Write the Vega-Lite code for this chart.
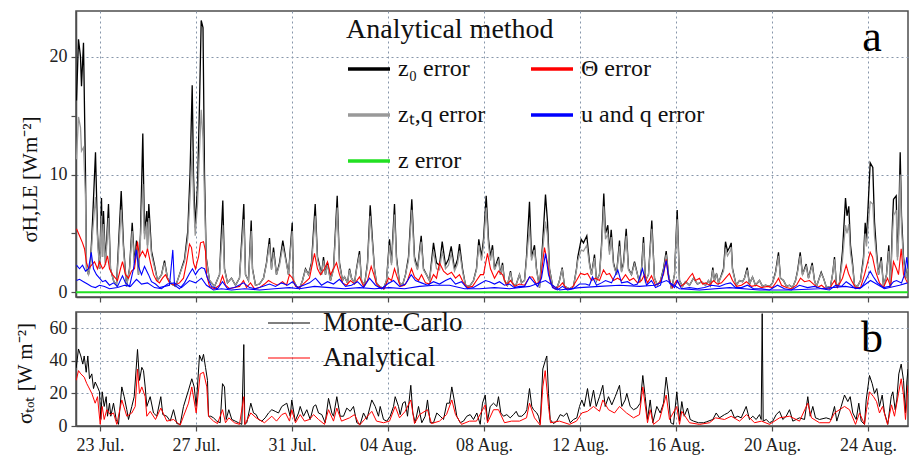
{
"$schema":"https://vega.github.io/schema/vega-lite/v6.json",
"padding":{"left":13,"top":10,"right":0,"bottom":0},
"bounds":"flush",
"spacing":15,
"config":{
"font":"Liberation Serif",
"view":{"stroke":"#4d4d4d","strokeWidth":1.5},
"axis":{"labelFont":"Liberation Serif","labelFontSize":18,"labelColor":"#222","titleFont":"Liberation Serif","titleFontWeight":"normal","titleFontSize":21,"titleColor":"#111","domainColor":"#4d4d4d","domainWidth":1.5,"tickColor":"#4d4d4d","tickSize":5,"tickWidth":1.2,"gridColor":"#8796aa","gridDash":[2,3],"gridWidth":1,"labelPadding":4,"labelOverlap":false,"tickCount":12},
"legend":{"labelFont":"Liberation Serif","titleFont":"Liberation Serif","labelColor":"#111","titleColor":"#111","titleFontWeight":"normal","padding":0}
},
"datasets":{
"z0":[{"h":0.5,"v":16.3},{"h":2.5,"v":21.5},{"h":4.5,"v":20},{"h":5.5,"v":17.5},{"h":7.5,"v":21.2},{"h":9.5,"v":10},{"h":10.5,"v":2},{"h":12.5,"v":1.5},{"h":14.5,"v":2.5},{"h":16.5,"v":6},{"h":19.5,"v":11.9},{"h":21.5,"v":5},{"h":23.5,"v":2},{"h":25.5,"v":8},{"h":26.5,"v":3},{"h":27.5,"v":6.9},{"h":29.5,"v":2.5},{"h":32.5,"v":7.5},{"h":34.5,"v":2},{"h":37.5,"v":1},{"h":40.5,"v":0.6},{"h":45.2,"v":8.6},{"h":47.5,"v":4},{"h":50.5,"v":0.5},{"h":53.5,"v":2},{"h":56.2,"v":5.9},{"h":58.5,"v":2.5},{"h":60.5,"v":4.4},{"h":62.5,"v":1.5},{"h":64.5,"v":5},{"h":66.8,"v":13.5},{"h":68.5,"v":5},{"h":70.8,"v":6.9},{"h":71.5,"v":4},{"h":72.8,"v":7.5},{"h":75.5,"v":3.5},{"h":78.5,"v":2.3},{"h":81.5,"v":1},{"h":85.5,"v":1.5},{"h":88.5,"v":2.7},{"h":91.5,"v":1.2},{"h":95.5,"v":0.7},{"h":99.5,"v":0.5},{"h":103.5,"v":1.5},{"h":108.5,"v":2.8},{"h":111.8,"v":5.2},{"h":114,"v":10},{"h":116.2,"v":17.6},{"h":117.5,"v":10},{"h":119.2,"v":5.5},{"h":121.5,"v":9},{"h":123.5,"v":16},{"h":125.2,"v":23.1},{"h":127,"v":22.5},{"h":128.5,"v":10},{"h":130.2,"v":3},{"h":133.5,"v":1},{"h":138.5,"v":0.5},{"h":143.5,"v":1.5},{"h":146.8,"v":7.8},{"h":148.5,"v":2},{"h":151.5,"v":0.8},{"h":155.5,"v":1.2},{"h":159.5,"v":0.6},{"h":163.5,"v":1.2},{"h":167.8,"v":7.5},{"h":169.5,"v":1.5},{"h":172.5,"v":1},{"h":175.2,"v":6.1},{"h":176.5,"v":2},{"h":179.5,"v":0.6},{"h":183.5,"v":0.7},{"h":187.5,"v":1.2},{"h":190.5,"v":2.5},{"h":193.5,"v":4.6},{"h":195.5,"v":2},{"h":197.5,"v":3.8},{"h":200.5,"v":1.5},{"h":203.5,"v":2.5},{"h":206.8,"v":4.4},{"h":209.5,"v":3},{"h":212.5,"v":1.5},{"h":216.2,"v":5.9},{"h":217.5,"v":1},{"h":220.5,"v":0.5},{"h":223.5,"v":0.3},{"h":226.5,"v":1},{"h":229.5,"v":2},{"h":232.5,"v":1.5},{"h":235.5,"v":2.5},{"h":239.2,"v":7.5},{"h":241.5,"v":3},{"h":243.5,"v":2.3},{"h":245.5,"v":1.5},{"h":247.5,"v":3},{"h":249.5,"v":1.5},{"h":251.5,"v":2.5},{"h":254.5,"v":1},{"h":257.5,"v":2},{"h":261.2,"v":8.2},{"h":263.5,"v":2.5},{"h":266.5,"v":1},{"h":268.5,"v":1.3},{"h":271.5,"v":0.8},{"h":273.5,"v":2},{"h":275.5,"v":1.2},{"h":278.5,"v":0.8},{"h":280.5,"v":2},{"h":283.5,"v":3.5},{"h":285.5,"v":1},{"h":288.5,"v":0.6},{"h":291.5,"v":2.5},{"h":294.2,"v":7.4},{"h":296.5,"v":4.4},{"h":298.5,"v":2},{"h":300.5,"v":0.8},{"h":303.5,"v":0.5},{"h":307.5,"v":0.3},{"h":310.5,"v":1},{"h":313.5,"v":4.5},{"h":315.5,"v":2.5},{"h":318.5,"v":7.5},{"h":320.5,"v":3},{"h":323.5,"v":0.8},{"h":326.5,"v":0.6},{"h":329.5,"v":1.5},{"h":332.5,"v":3},{"h":335.8,"v":7.9},{"h":338.5,"v":3},{"h":341.5,"v":2},{"h":345.2,"v":4.8},{"h":347.5,"v":2},{"h":350.5,"v":1.5},{"h":353.5,"v":1},{"h":357.5,"v":4.2},{"h":360.5,"v":2.5},{"h":363.5,"v":2.3},{"h":366.2,"v":4.3},{"h":369.5,"v":2.3},{"h":372.5,"v":2.8},{"h":375.2,"v":3.9},{"h":378.5,"v":2},{"h":381.5,"v":2.8},{"h":383.5,"v":4.1},{"h":386.5,"v":2},{"h":389.5,"v":0.6},{"h":393.5,"v":0.5},{"h":397.5,"v":1},{"h":400.5,"v":2},{"h":402.8,"v":4.5},{"h":405.5,"v":3},{"h":407.5,"v":4.5},{"h":410.2,"v":8.2},{"h":412.5,"v":4.5},{"h":414.5,"v":3},{"h":416.5,"v":4},{"h":418.5,"v":2},{"h":420.5,"v":2.5},{"h":422.5,"v":3},{"h":424.5,"v":1.5},{"h":426.5,"v":2.5},{"h":428.5,"v":1},{"h":431.5,"v":0.6},{"h":434.5,"v":1.8},{"h":436.5,"v":0.8},{"h":439.5,"v":0.5},{"h":443.5,"v":1.5},{"h":445.5,"v":0.8},{"h":448.5,"v":1},{"h":450.5,"v":3},{"h":453.5,"v":7.7},{"h":455.5,"v":3},{"h":458.5,"v":4},{"h":460.5,"v":2},{"h":463.5,"v":0.4},{"h":466.5,"v":4},{"h":469.5,"v":8.3},{"h":471.5,"v":6},{"h":473.5,"v":2},{"h":476.5,"v":0.6},{"h":479.5,"v":0.3},{"h":481.5,"v":0.5},{"h":483.5,"v":1},{"h":486.2,"v":2.1},{"h":488.5,"v":0.5},{"h":493.5,"v":0.3},{"h":497.5,"v":0.5},{"h":500.5,"v":2},{"h":501.8,"v":3},{"h":505.2,"v":4.5},{"h":507.5,"v":4.2},{"h":510.8,"v":4.8},{"h":513.5,"v":2.5},{"h":515.5,"v":1.5},{"h":518.5,"v":3.2},{"h":520.5,"v":1},{"h":523.5,"v":1.5},{"h":525.5,"v":4},{"h":527.8,"v":8.4},{"h":529.5,"v":5},{"h":531.8,"v":5.7},{"h":533.5,"v":3.5},{"h":535.2,"v":5.3},{"h":537.5,"v":2.5},{"h":540.5,"v":1.5},{"h":543.5,"v":4.4},{"h":545.5,"v":1.8},{"h":547.5,"v":2.5},{"h":550.2,"v":5.4},{"h":552.5,"v":2},{"h":555.5,"v":1.5},{"h":558.5,"v":2.6},{"h":561.5,"v":1.5},{"h":563.5,"v":0.8},{"h":565.5,"v":2},{"h":567.5,"v":4.7},{"h":569.5,"v":1},{"h":572.5,"v":1.5},{"h":575.8,"v":6.1},{"h":578.5,"v":1.2},{"h":581.5,"v":0.6},{"h":584.5,"v":1},{"h":587.5,"v":2},{"h":590.2,"v":3.5},{"h":592.5,"v":1.5},{"h":595.5,"v":0.3},{"h":598.5,"v":1.5},{"h":601.2,"v":7},{"h":603.5,"v":1},{"h":606.5,"v":0.5},{"h":609.5,"v":0.9},{"h":613.5,"v":0.6},{"h":617.5,"v":1.2},{"h":621.5,"v":0.7},{"h":625.5,"v":0.9},{"h":629.5,"v":0.6},{"h":632.5,"v":1},{"h":634.5,"v":0.6},{"h":636.8,"v":2.1},{"h":638.5,"v":1},{"h":640.5,"v":1.6},{"h":642.5,"v":0.8},{"h":645.5,"v":1.5},{"h":647.5,"v":2},{"h":649.5,"v":4.3},{"h":651.5,"v":3.5},{"h":653.5,"v":3.8},{"h":655.2,"v":4.2},{"h":656.5,"v":2},{"h":660.2,"v":0.6},{"h":663.5,"v":1},{"h":666.5,"v":0.9},{"h":668.5,"v":1.2},{"h":671.2,"v":2.1},{"h":673.5,"v":0.7},{"h":676.5,"v":1.3},{"h":679.5,"v":0.6},{"h":683.5,"v":1},{"h":686.5,"v":0.5},{"h":689.5,"v":0.6},{"h":693.5,"v":0.5},{"h":696.5,"v":0.8},{"h":699.5,"v":1.7},{"h":702.5,"v":3.4},{"h":704.5,"v":1.2},{"h":707.5,"v":1},{"h":710.5,"v":0.5},{"h":713.5,"v":0.6},{"h":716.5,"v":0.4},{"h":719.5,"v":1},{"h":721.5,"v":1.8},{"h":724.2,"v":3.4},{"h":726.5,"v":1.5},{"h":730.2,"v":2.4},{"h":732.5,"v":1.2},{"h":736.2,"v":2.5},{"h":738.5,"v":1},{"h":740.5,"v":0.5},{"h":742.5,"v":1},{"h":745.2,"v":1.7},{"h":747.5,"v":1.2},{"h":750.5,"v":0.4},{"h":754.5,"v":0.5},{"h":756.5,"v":1.5},{"h":758.5,"v":3},{"h":760.5,"v":0.5},{"h":763.5,"v":0.8},{"h":766.5,"v":3.5},{"h":769.5,"v":8},{"h":771,"v":6.5},{"h":772.8,"v":7.3},{"h":774.5,"v":4},{"h":776.5,"v":2.5},{"h":778.5,"v":0.6},{"h":781.5,"v":0.5},{"h":784.5,"v":1},{"h":787.5,"v":3},{"h":789.2,"v":5.9},{"h":790.5,"v":4.5},{"h":792.5,"v":8},{"h":794.2,"v":11},{"h":796.8,"v":10.6},{"h":798.5,"v":6},{"h":800.5,"v":3.5},{"h":802.5,"v":1.5},{"h":805.2,"v":3},{"h":807.5,"v":0.5},{"h":810.5,"v":1.5},{"h":812.8,"v":4},{"h":814.5,"v":0.5},{"h":816.5,"v":6},{"h":817.5,"v":7.9},{"h":820.2,"v":8.2},{"h":821.5,"v":3},{"h":822.5,"v":5},{"h":824.2,"v":11.9},{"h":825.5,"v":6.5},{"h":827.5,"v":3},{"h":830.2,"v":1.2},{"h":832,"v":2.5}],
"ztq":[{"h":0.5,"v":11.3},{"h":2.5,"v":14.9},{"h":4.5,"v":14},{"h":5.5,"v":12},{"h":7.5,"v":12.3},{"h":9.5,"v":8},{"h":10.5,"v":2},{"h":12.5,"v":1.5},{"h":14.5,"v":2.3},{"h":16.5,"v":5},{"h":19.5,"v":8.1},{"h":21.5,"v":4.5},{"h":23.5,"v":2},{"h":25.5,"v":6.5},{"h":26.5,"v":3},{"h":27.5,"v":5.8},{"h":29.5,"v":2.3},{"h":32.5,"v":6.3},{"h":34.5,"v":2},{"h":37.5,"v":1},{"h":40.5,"v":0.6},{"h":45.2,"v":7},{"h":47.5,"v":3.6},{"h":50.5,"v":0.5},{"h":53.5,"v":1.9},{"h":56.2,"v":5.2},{"h":58.5,"v":2.3},{"h":60.5,"v":3.9},{"h":62.5,"v":1.5},{"h":64.5,"v":4.5},{"h":66.8,"v":9.2},{"h":68.5,"v":4.5},{"h":70.8,"v":6},{"h":71.5,"v":3.6},{"h":72.8,"v":6.3},{"h":75.5,"v":3.2},{"h":78.5,"v":2.1},{"h":81.5,"v":1},{"h":85.5,"v":1.5},{"h":88.5,"v":2.5},{"h":91.5,"v":1.2},{"h":95.5,"v":0.7},{"h":99.5,"v":0.5},{"h":103.5,"v":1.5},{"h":108.5,"v":2.6},{"h":111.8,"v":4.6},{"h":114,"v":8},{"h":116.2,"v":12},{"h":117.5,"v":8},{"h":119.2,"v":4.8},{"h":121.5,"v":7.5},{"h":123.5,"v":12},{"h":125.2,"v":15.5},{"h":127,"v":13},{"h":128.5,"v":8},{"h":130.2,"v":2.8},{"h":133.5,"v":1},{"h":138.5,"v":0.5},{"h":143.5,"v":1.5},{"h":146.8,"v":5.7},{"h":148.5,"v":1.9},{"h":151.5,"v":0.8},{"h":155.5,"v":1.2},{"h":159.5,"v":0.6},{"h":163.5,"v":1.2},{"h":167.8,"v":6.2},{"h":169.5,"v":1.5},{"h":172.5,"v":1},{"h":175.2,"v":5.2},{"h":176.5,"v":1.9},{"h":179.5,"v":0.6},{"h":183.5,"v":0.7},{"h":187.5,"v":1.2},{"h":190.5,"v":2.4},{"h":193.5,"v":4.1},{"h":195.5,"v":1.9},{"h":197.5,"v":3.4},{"h":200.5,"v":1.5},{"h":203.5,"v":2.3},{"h":206.8,"v":3.9},{"h":209.5,"v":2.8},{"h":212.5,"v":1.5},{"h":216.2,"v":5.2},{"h":217.5,"v":1},{"h":220.5,"v":0.5},{"h":223.5,"v":0.3},{"h":226.5,"v":1},{"h":229.5,"v":1.9},{"h":232.5,"v":1.5},{"h":235.5,"v":2.3},{"h":239.2,"v":6.5},{"h":241.5,"v":2.8},{"h":243.5,"v":2.1},{"h":245.5,"v":1.5},{"h":247.5,"v":2.7},{"h":249.5,"v":1.5},{"h":251.5,"v":2.3},{"h":254.5,"v":1},{"h":257.5,"v":1.9},{"h":261.2,"v":7.2},{"h":263.5,"v":2.3},{"h":266.5,"v":1},{"h":268.5,"v":1.3},{"h":271.5,"v":0.8},{"h":273.5,"v":1.9},{"h":275.5,"v":1.2},{"h":278.5,"v":0.8},{"h":280.5,"v":1.9},{"h":283.5,"v":3.2},{"h":285.5,"v":1},{"h":288.5,"v":0.6},{"h":291.5,"v":2.3},{"h":294.2,"v":6.5},{"h":296.5,"v":4},{"h":298.5,"v":1.9},{"h":300.5,"v":0.8},{"h":303.5,"v":0.5},{"h":307.5,"v":0.3},{"h":310.5,"v":1},{"h":313.5,"v":4},{"h":315.5,"v":2.3},{"h":318.5,"v":6.6},{"h":320.5,"v":2.7},{"h":323.5,"v":0.8},{"h":326.5,"v":0.6},{"h":329.5,"v":1.5},{"h":332.5,"v":2.7},{"h":335.8,"v":7},{"h":338.5,"v":2.7},{"h":341.5,"v":1.9},{"h":345.2,"v":4.3},{"h":347.5,"v":1.9},{"h":350.5,"v":1.5},{"h":353.5,"v":1},{"h":357.5,"v":3.5},{"h":360.5,"v":2},{"h":363.5,"v":1.9},{"h":366.2,"v":3.5},{"h":369.5,"v":2},{"h":372.5,"v":2.3},{"h":375.2,"v":3.3},{"h":378.5,"v":1.8},{"h":381.5,"v":2.4},{"h":383.5,"v":3.5},{"h":386.5,"v":1.8},{"h":389.5,"v":0.6},{"h":393.5,"v":0.5},{"h":397.5,"v":1},{"h":400.5,"v":1.9},{"h":402.8,"v":4},{"h":405.5,"v":2.7},{"h":407.5,"v":4},{"h":410.2,"v":7.2},{"h":412.5,"v":4},{"h":414.5,"v":2.7},{"h":416.5,"v":3.6},{"h":418.5,"v":1.9},{"h":420.5,"v":2.3},{"h":422.5,"v":2.7},{"h":424.5,"v":1.5},{"h":426.5,"v":2.3},{"h":428.5,"v":1},{"h":431.5,"v":0.6},{"h":434.5,"v":1.7},{"h":436.5,"v":0.8},{"h":439.5,"v":0.5},{"h":443.5,"v":1.5},{"h":445.5,"v":0.8},{"h":448.5,"v":1},{"h":450.5,"v":2.7},{"h":453.5,"v":5.6},{"h":455.5,"v":2.7},{"h":458.5,"v":3.6},{"h":460.5,"v":1.9},{"h":463.5,"v":0.4},{"h":466.5,"v":3.5},{"h":469.5,"v":6},{"h":471.5,"v":4.8},{"h":473.5,"v":1.9},{"h":476.5,"v":0.6},{"h":479.5,"v":0.3},{"h":481.5,"v":0.5},{"h":483.5,"v":1},{"h":486.2,"v":2},{"h":488.5,"v":0.5},{"h":493.5,"v":0.3},{"h":497.5,"v":0.5},{"h":500.5,"v":1.9},{"h":501.8,"v":2.7},{"h":505.2,"v":3.6},{"h":507.5,"v":3.5},{"h":510.8,"v":4},{"h":513.5,"v":2.3},{"h":515.5,"v":1.5},{"h":518.5,"v":2.9},{"h":520.5,"v":1},{"h":523.5,"v":1.5},{"h":525.5,"v":3.6},{"h":527.8,"v":7.3},{"h":529.5,"v":4.5},{"h":531.8,"v":5},{"h":533.5,"v":3.2},{"h":535.2,"v":4.7},{"h":537.5,"v":2.3},{"h":540.5,"v":1.5},{"h":543.5,"v":3.9},{"h":545.5,"v":1.7},{"h":547.5,"v":2.3},{"h":550.2,"v":4.8},{"h":552.5,"v":1.9},{"h":555.5,"v":1.5},{"h":558.5,"v":2.4},{"h":561.5,"v":1.5},{"h":563.5,"v":0.8},{"h":565.5,"v":1.9},{"h":567.5,"v":4.2},{"h":569.5,"v":1},{"h":572.5,"v":1.5},{"h":575.8,"v":5.4},{"h":578.5,"v":1.2},{"h":581.5,"v":0.6},{"h":584.5,"v":1},{"h":587.5,"v":1.9},{"h":590.2,"v":3.2},{"h":592.5,"v":1.5},{"h":595.5,"v":0.3},{"h":598.5,"v":1.5},{"h":601.2,"v":6.2},{"h":603.5,"v":1},{"h":606.5,"v":0.5},{"h":609.5,"v":0.9},{"h":613.5,"v":0.6},{"h":617.5,"v":1.2},{"h":621.5,"v":0.7},{"h":625.5,"v":0.9},{"h":629.5,"v":0.6},{"h":632.5,"v":1},{"h":634.5,"v":0.6},{"h":636.8,"v":1.9},{"h":638.5,"v":1},{"h":640.5,"v":1.5},{"h":642.5,"v":0.8},{"h":645.5,"v":1.4},{"h":647.5,"v":1.8},{"h":649.5,"v":3.7},{"h":651.5,"v":3.1},{"h":653.5,"v":3.4},{"h":655.2,"v":3.7},{"h":656.5,"v":1.9},{"h":660.2,"v":0.6},{"h":663.5,"v":1},{"h":666.5,"v":0.9},{"h":668.5,"v":1.2},{"h":671.2,"v":1.9},{"h":673.5,"v":0.7},{"h":676.5,"v":1.3},{"h":679.5,"v":0.6},{"h":683.5,"v":1},{"h":686.5,"v":0.5},{"h":689.5,"v":0.6},{"h":693.5,"v":0.5},{"h":696.5,"v":0.8},{"h":699.5,"v":1.6},{"h":702.5,"v":3.1},{"h":704.5,"v":1.2},{"h":707.5,"v":1},{"h":710.5,"v":0.5},{"h":713.5,"v":0.6},{"h":716.5,"v":0.4},{"h":719.5,"v":1},{"h":721.5,"v":1.7},{"h":724.2,"v":3.1},{"h":726.5,"v":1.5},{"h":730.2,"v":2.2},{"h":732.5,"v":1.2},{"h":736.2,"v":2.3},{"h":738.5,"v":1},{"h":740.5,"v":0.5},{"h":742.5,"v":1},{"h":745.2,"v":1.6},{"h":747.5,"v":1.2},{"h":750.5,"v":0.4},{"h":754.5,"v":0.5},{"h":756.5,"v":1.5},{"h":758.5,"v":2.8},{"h":760.5,"v":0.5},{"h":763.5,"v":0.8},{"h":766.5,"v":2.8},{"h":769.5,"v":5.7},{"h":771,"v":5},{"h":772.8,"v":5.8},{"h":774.5,"v":3.3},{"h":776.5,"v":2.2},{"h":778.5,"v":0.6},{"h":781.5,"v":0.5},{"h":784.5,"v":1},{"h":787.5,"v":2.6},{"h":789.2,"v":5},{"h":790.5,"v":3.9},{"h":792.5,"v":6},{"h":794.2,"v":7.7},{"h":796.8,"v":7.5},{"h":798.5,"v":4.8},{"h":800.5,"v":3},{"h":802.5,"v":1.5},{"h":805.2,"v":2.7},{"h":807.5,"v":0.5},{"h":810.5,"v":1.5},{"h":812.8,"v":3.5},{"h":814.5,"v":0.5},{"h":816.5,"v":5},{"h":817.5,"v":6.5},{"h":820.2,"v":7},{"h":821.5,"v":2.7},{"h":822.5,"v":4.3},{"h":824.2,"v":10},{"h":825.5,"v":5.5},{"h":827.5,"v":2.7},{"h":830.2,"v":1.2},{"h":832,"v":2.3}],
"th":[{"h":0.5,"v":5.4},{"h":3.5,"v":4.8},{"h":6.5,"v":4.2},{"h":8.5,"v":3.7},{"h":10.5,"v":2.5},{"h":12.5,"v":2},{"h":15.5,"v":2.3},{"h":18.5,"v":2.6},{"h":21.5,"v":2},{"h":23.5,"v":2.6},{"h":26.5,"v":2},{"h":28.5,"v":2.2},{"h":31.5,"v":3.1},{"h":33.5,"v":2},{"h":36.5,"v":1.5},{"h":39.5,"v":1.2},{"h":41.5,"v":1},{"h":44.5,"v":2},{"h":46.5,"v":2.6},{"h":49.5,"v":1.5},{"h":52.5,"v":1.2},{"h":55.5,"v":1.8},{"h":58.5,"v":2},{"h":61.5,"v":4.3},{"h":63.5,"v":3},{"h":66.5,"v":3.5},{"h":69.5,"v":3},{"h":71.5,"v":3.7},{"h":74.5,"v":2.5},{"h":77.5,"v":1.5},{"h":80.5,"v":1},{"h":83.5,"v":0.8},{"h":86.5,"v":1.2},{"h":89.5,"v":1.5},{"h":93.5,"v":0.8},{"h":98.5,"v":0.6},{"h":103.5,"v":0.8},{"h":107.5,"v":1.2},{"h":110.5,"v":2.5},{"h":113.5,"v":4.1},{"h":115.5,"v":3.8},{"h":117.5,"v":2.5},{"h":119.5,"v":2},{"h":122.5,"v":3},{"h":124.5,"v":4.2},{"h":127.5,"v":4.3},{"h":129.5,"v":3.5},{"h":130.5,"v":1.5},{"h":133.5,"v":0.5},{"h":138.5,"v":0.3},{"h":143.5,"v":0.6},{"h":146.5,"v":1.4},{"h":149.5,"v":0.6},{"h":153.5,"v":0.3},{"h":158.5,"v":0.4},{"h":163.5,"v":0.5},{"h":167.5,"v":1},{"h":170.5,"v":0.4},{"h":174.5,"v":0.8},{"h":178.5,"v":0.3},{"h":183.5,"v":0.4},{"h":188.5,"v":0.7},{"h":192.5,"v":1},{"h":196.5,"v":0.8},{"h":201.5,"v":0.6},{"h":206.5,"v":0.9},{"h":210.5,"v":0.6},{"h":213.5,"v":1.5},{"h":216.5,"v":1.2},{"h":219.5,"v":0.5},{"h":223.5,"v":0.4},{"h":228.5,"v":0.8},{"h":233.5,"v":1.2},{"h":238.5,"v":3.3},{"h":241.5,"v":2},{"h":244.5,"v":1.5},{"h":248.5,"v":2},{"h":251.5,"v":2.6},{"h":254.5,"v":1.5},{"h":257.5,"v":2},{"h":260.5,"v":2.5},{"h":263.5,"v":1.5},{"h":266.5,"v":0.8},{"h":270.5,"v":0.6},{"h":274.5,"v":1},{"h":278.5,"v":0.7},{"h":283.5,"v":1.3},{"h":287.5,"v":0.5},{"h":291.5,"v":1},{"h":295.2,"v":2.2},{"h":297.5,"v":1.6},{"h":300.5,"v":0.7},{"h":304.5,"v":0.4},{"h":308.5,"v":0.3},{"h":312.5,"v":1.2},{"h":315.5,"v":1},{"h":318.5,"v":2},{"h":321.5,"v":1.2},{"h":324.5,"v":0.5},{"h":328.5,"v":0.6},{"h":331.5,"v":1},{"h":335.5,"v":2},{"h":338.5,"v":1.3},{"h":342.5,"v":1},{"h":345.5,"v":1.5},{"h":349.5,"v":0.8},{"h":353.5,"v":0.7},{"h":357.5,"v":1.5},{"h":360.5,"v":1.2},{"h":363.5,"v":2.5},{"h":367.5,"v":1.8},{"h":371.5,"v":1.5},{"h":375.5,"v":1.7},{"h":379.5,"v":1.2},{"h":383.5,"v":1.5},{"h":387.5,"v":0.8},{"h":391.5,"v":0.4},{"h":396.5,"v":0.5},{"h":400.5,"v":1},{"h":404.5,"v":1.5},{"h":407.5,"v":1.5},{"h":411.5,"v":3.3},{"h":414.5,"v":2},{"h":418.5,"v":1.2},{"h":422.5,"v":1.8},{"h":426.5,"v":1.5},{"h":430.5,"v":0.6},{"h":434.5,"v":1},{"h":438.5,"v":0.5},{"h":443.5,"v":0.7},{"h":448.5,"v":0.6},{"h":453.5,"v":1.3},{"h":456.5,"v":1.3},{"h":460.5,"v":0.7},{"h":464.5,"v":1},{"h":468.5,"v":3.8},{"h":471.5,"v":2.5},{"h":474.5,"v":0.8},{"h":478.5,"v":0.3},{"h":483.5,"v":0.5},{"h":486.5,"v":0.8},{"h":490.5,"v":0.3},{"h":495.5,"v":0.3},{"h":500.5,"v":1},{"h":504.5,"v":1.6},{"h":508.5,"v":1.5},{"h":511.5,"v":1.6},{"h":515.5,"v":1},{"h":519.5,"v":1.2},{"h":523.5,"v":1},{"h":527.5,"v":1.9},{"h":530.5,"v":1.5},{"h":533.5,"v":1.6},{"h":537.5,"v":1},{"h":541.5,"v":1.2},{"h":545.5,"v":1},{"h":549.5,"v":1.5},{"h":553.5,"v":1},{"h":557.5,"v":1.2},{"h":561.5,"v":0.8},{"h":565.5,"v":1},{"h":568.5,"v":1.5},{"h":571.5,"v":0.8},{"h":575.5,"v":1.4},{"h":579.5,"v":0.6},{"h":583.5,"v":0.8},{"h":587.5,"v":1.5},{"h":590.2,"v":2.8},{"h":592.5,"v":1.2},{"h":596.5,"v":0.4},{"h":600.5,"v":1},{"h":604.5,"v":0.5},{"h":609.5,"v":0.8},{"h":613.5,"v":1.3},{"h":616.5,"v":1.6},{"h":619.5,"v":1},{"h":623.5,"v":1.2},{"h":626.5,"v":0.7},{"h":629.5,"v":0.8},{"h":633.5,"v":0.6},{"h":637.5,"v":1},{"h":641.5,"v":0.7},{"h":645.5,"v":0.8},{"h":649.5,"v":1.2},{"h":653.5,"v":1.6},{"h":656.5,"v":1},{"h":660.5,"v":0.5},{"h":665.5,"v":0.6},{"h":670.5,"v":0.9},{"h":675.5,"v":0.5},{"h":680.5,"v":0.6},{"h":685.5,"v":0.4},{"h":691.5,"v":0.5},{"h":696.5,"v":0.4},{"h":700.5,"v":0.9},{"h":702.5,"v":1.2},{"h":705.5,"v":0.6},{"h":710.5,"v":0.4},{"h":715.5,"v":0.3},{"h":720.5,"v":0.6},{"h":724.5,"v":1.2},{"h":728.5,"v":0.9},{"h":733.5,"v":1},{"h":737.5,"v":0.7},{"h":741.5,"v":0.4},{"h":745.5,"v":0.6},{"h":749.5,"v":0.3},{"h":753.5,"v":0.3},{"h":758.5,"v":1},{"h":761.5,"v":0.4},{"h":766.5,"v":1.2},{"h":770.2,"v":2.3},{"h":772.5,"v":1.6},{"h":775.5,"v":1},{"h":779.5,"v":0.4},{"h":784.5,"v":0.4},{"h":788.5,"v":1.5},{"h":791.5,"v":2.5},{"h":794.2,"v":3.4},{"h":796.5,"v":3},{"h":799.5,"v":1.8},{"h":803.5,"v":0.8},{"h":807.5,"v":0.4},{"h":811.5,"v":1.2},{"h":814.5,"v":0.5},{"h":817.5,"v":2.6},{"h":820.5,"v":2},{"h":822.5,"v":1.5},{"h":825.2,"v":3.7},{"h":827.5,"v":1.5},{"h":831.5,"v":0.8}],
"uq":[{"h":0.5,"v":2.3},{"h":3.5,"v":2},{"h":6.5,"v":2.3},{"h":9.5,"v":1.8},{"h":12.5,"v":2},{"h":15.2,"v":3.4},{"h":17.5,"v":2},{"h":20.5,"v":1.5},{"h":23.5,"v":1.2},{"h":26.5,"v":0.9},{"h":29.5,"v":1},{"h":33.5,"v":0.6},{"h":37.5,"v":0.8},{"h":41.5,"v":0.5},{"h":46.5,"v":1.4},{"h":49.5,"v":0.8},{"h":53.5,"v":0.5},{"h":57.5,"v":2},{"h":60.2,"v":3.6},{"h":62.5,"v":2.2},{"h":65.5,"v":1.5},{"h":68.5,"v":2.2},{"h":72.5,"v":1.5},{"h":75.5,"v":0.9},{"h":79.5,"v":0.7},{"h":83.5,"v":0.4},{"h":88.5,"v":0.5},{"h":93.5,"v":0.6},{"h":96.8,"v":3.6},{"h":98.5,"v":0.6},{"h":103.5,"v":0.3},{"h":108.5,"v":0.8},{"h":113.5,"v":1.6},{"h":116.5,"v":2},{"h":119.5,"v":1.5},{"h":122.5,"v":1.9},{"h":125.5,"v":2.1},{"h":128.5,"v":2},{"h":131.5,"v":1.2},{"h":135.5,"v":0.5},{"h":141.5,"v":0.3},{"h":146.5,"v":0.9},{"h":151.5,"v":0.3},{"h":158.5,"v":0.4},{"h":167.5,"v":0.8},{"h":173.5,"v":0.4},{"h":179.5,"v":0.3},{"h":186.5,"v":0.5},{"h":193.5,"v":0.7},{"h":199.5,"v":0.5},{"h":205.5,"v":0.8},{"h":211.5,"v":0.6},{"h":216.5,"v":0.9},{"h":221.5,"v":0.4},{"h":227.5,"v":0.6},{"h":233.5,"v":0.8},{"h":239.5,"v":1.2},{"h":245.5,"v":0.6},{"h":251.5,"v":0.9},{"h":257.5,"v":0.7},{"h":263.5,"v":1.1},{"h":269.5,"v":0.5},{"h":275.5,"v":0.6},{"h":281.5,"v":0.9},{"h":287.5,"v":0.4},{"h":293.5,"v":1.2},{"h":299.5,"v":0.6},{"h":305.5,"v":0.3},{"h":311.5,"v":0.7},{"h":317.5,"v":1},{"h":323.5,"v":0.5},{"h":329.5,"v":0.7},{"h":335.2,"v":1.5},{"h":339.5,"v":1},{"h":345.5,"v":0.8},{"h":351.5,"v":0.6},{"h":357.5,"v":0.9},{"h":363.5,"v":0.7},{"h":369.5,"v":1},{"h":374.5,"v":1.2},{"h":379.5,"v":0.7},{"h":385.5,"v":0.9},{"h":391.5,"v":0.3},{"h":397.5,"v":0.4},{"h":403.5,"v":0.7},{"h":409.5,"v":1},{"h":413.5,"v":0.9},{"h":418.5,"v":0.7},{"h":423.5,"v":0.9},{"h":428.5,"v":0.6},{"h":433.5,"v":0.7},{"h":438.5,"v":0.4},{"h":443.5,"v":0.5},{"h":448.5,"v":0.5},{"h":453.5,"v":1.3},{"h":457.5,"v":0.9},{"h":461.5,"v":0.5},{"h":465.5,"v":1.2},{"h":469.5,"v":3.3},{"h":472.5,"v":1.5},{"h":476.5,"v":0.4},{"h":481.5,"v":0.2},{"h":486.5,"v":0.5},{"h":491.5,"v":0.2},{"h":497.5,"v":0.3},{"h":503.5,"v":0.7},{"h":509.5,"v":0.7},{"h":513.5,"v":0.6},{"h":516.5,"v":1.3},{"h":520.5,"v":0.6},{"h":525.5,"v":0.8},{"h":529.5,"v":1},{"h":535.5,"v":0.8},{"h":541.8,"v":1.9},{"h":545.5,"v":0.8},{"h":551.5,"v":0.9},{"h":557.5,"v":0.6},{"h":561.5,"v":0.7},{"h":566.5,"v":2},{"h":570.5,"v":0.6},{"h":575.5,"v":1},{"h":579.5,"v":0.4},{"h":584.5,"v":0.6},{"h":590.2,"v":2.7},{"h":593.5,"v":0.8},{"h":598.5,"v":0.4},{"h":601.5,"v":1},{"h":605.5,"v":0.3},{"h":613.5,"v":0.4},{"h":621.5,"v":0.3},{"h":628.5,"v":0.4},{"h":635.5,"v":0.6},{"h":643.5,"v":0.5},{"h":649.5,"v":0.7},{"h":654.5,"v":0.8},{"h":659.5,"v":0.4},{"h":665.5,"v":0.4},{"h":671.5,"v":0.6},{"h":677.5,"v":0.3},{"h":685.5,"v":0.3},{"h":693.5,"v":0.2},{"h":701.5,"v":0.6},{"h":708.5,"v":0.3},{"h":715.5,"v":0.2},{"h":723.5,"v":0.6},{"h":731.5,"v":0.4},{"h":738.5,"v":0.5},{"h":745.5,"v":0.3},{"h":753.5,"v":0.2},{"h":759.5,"v":0.6},{"h":765.5,"v":0.5},{"h":770.2,"v":0.9},{"h":773.5,"v":0.7},{"h":779.5,"v":0.3},{"h":785.5,"v":0.4},{"h":789.5,"v":1},{"h":794.2,"v":1.8},{"h":797.5,"v":1.3},{"h":801.5,"v":0.8},{"h":807.5,"v":0.4},{"h":813.5,"v":0.5},{"h":817.5,"v":0.9},{"h":820.5,"v":1},{"h":825.5,"v":0.8},{"h":828.5,"v":1.5},{"h":830.8,"v":3},{"h":832,"v":2}],
"uq2":[{"h":0.5,"v":1},{"h":3.5,"v":1.1},{"h":7.5,"v":0.9},{"h":11.5,"v":0.7},{"h":15.5,"v":0.5},{"h":19.5,"v":0.4},{"h":23.5,"v":0.6},{"h":28.5,"v":0.5},{"h":33.5,"v":0.3},{"h":41.5,"v":0.4},{"h":48.5,"v":0.6},{"h":54.5,"v":0.5},{"h":60.5,"v":1.1},{"h":65.5,"v":0.7},{"h":71.5,"v":0.8},{"h":78.5,"v":0.4},{"h":85.5,"v":0.3},{"h":91.5,"v":0.7},{"h":98.5,"v":0.8},{"h":105.5,"v":0.4},{"h":113.5,"v":1},{"h":119.5,"v":0.8},{"h":125.5,"v":1.2},{"h":130.5,"v":0.6},{"h":137.5,"v":0.2},{"h":145.5,"v":0.3},{"h":155.5,"v":0.2},{"h":168.5,"v":0.3},{"h":183.5,"v":0.2},{"h":198.5,"v":0.3},{"h":213.5,"v":0.4},{"h":223.5,"v":0.3},{"h":238.5,"v":0.5},{"h":253.5,"v":0.4},{"h":268.5,"v":0.3},{"h":283.5,"v":0.4},{"h":298.5,"v":0.3},{"h":313.5,"v":0.4},{"h":328.5,"v":0.3},{"h":343.5,"v":0.5},{"h":358.5,"v":0.6},{"h":373.5,"v":0.6},{"h":388.5,"v":0.3},{"h":403.5,"v":0.3},{"h":418.5,"v":0.4},{"h":433.5,"v":0.3},{"h":453.5,"v":0.5},{"h":469.5,"v":1},{"h":483.5,"v":0.2},{"h":503.5,"v":0.4},{"h":523.5,"v":0.5},{"h":543.5,"v":0.6},{"h":563.5,"v":0.5},{"h":578.5,"v":0.6},{"h":590.5,"v":1},{"h":603.5,"v":0.3},{"h":623.5,"v":0.2},{"h":653.5,"v":0.4},{"h":683.5,"v":0.2},{"h":713.5,"v":0.2},{"h":743.5,"v":0.3},{"h":769.5,"v":0.5},{"h":783.5,"v":0.3},{"h":794.5,"v":1},{"h":808.5,"v":0.3},{"h":823.5,"v":0.6},{"h":831.5,"v":0.8}],
"zz":[{"h":0,"v":0},{"h":832,"v":0}],
"mc":[{"h":0.2,"v":35.7},{"h":2.5,"v":47.3},{"h":4.8,"v":43},{"h":6.8,"v":38},{"h":8.2,"v":43},{"h":10.2,"v":33},{"h":11.8,"v":43},{"h":13.5,"v":29},{"h":15.8,"v":32},{"h":17.5,"v":23},{"h":19.2,"v":27},{"h":21.5,"v":24},{"h":23.5,"v":21},{"h":24.8,"v":4},{"h":26.2,"v":21},{"h":28.2,"v":12},{"h":30.2,"v":18},{"h":31.5,"v":6},{"h":33.5,"v":14},{"h":34.8,"v":6},{"h":37.5,"v":14},{"h":40.2,"v":4},{"h":42.5,"v":1},{"h":45.8,"v":24},{"h":48.2,"v":18},{"h":50.8,"v":10},{"h":52.5,"v":4},{"h":55.8,"v":12},{"h":58.2,"v":18},{"h":61.5,"v":47},{"h":63.5,"v":28},{"h":65.8,"v":36},{"h":67.5,"v":34},{"h":69.2,"v":24},{"h":70.8,"v":12},{"h":74.2,"v":18},{"h":77.5,"v":8},{"h":80.8,"v":6},{"h":84.8,"v":18},{"h":86.8,"v":7},{"h":90.8,"v":6},{"h":94.2,"v":3},{"h":97.5,"v":10},{"h":100.8,"v":1.5},{"h":104.2,"v":1},{"h":107.5,"v":12},{"h":112.5,"v":22},{"h":115.8,"v":29},{"h":118.2,"v":24},{"h":120.2,"v":12},{"h":123.5,"v":43.5},{"h":125.8,"v":40},{"h":127.5,"v":44},{"h":129.5,"v":36},{"h":131.5,"v":28},{"h":132.5,"v":6},{"h":134.8,"v":6},{"h":137.5,"v":5},{"h":140.8,"v":3},{"h":144.2,"v":2},{"h":146.5,"v":26},{"h":148.5,"v":24},{"h":150.2,"v":4},{"h":152.8,"v":10},{"h":155.8,"v":4},{"h":159.2,"v":3},{"h":162.5,"v":2},{"h":165.8,"v":1},{"h":167.8,"v":50},{"h":168.8,"v":1},{"h":170.8,"v":2},{"h":174.8,"v":14},{"h":177.5,"v":8},{"h":180.2,"v":7},{"h":182.5,"v":4},{"h":185.8,"v":3},{"h":189.2,"v":5},{"h":192.5,"v":8},{"h":195.8,"v":10},{"h":199.2,"v":9},{"h":202.5,"v":8},{"h":205.8,"v":12},{"h":210.8,"v":14},{"h":214.2,"v":6},{"h":215.8,"v":16},{"h":219.2,"v":3},{"h":222.5,"v":8},{"h":224.2,"v":12},{"h":227.5,"v":6},{"h":230.8,"v":10},{"h":234.2,"v":4},{"h":237.5,"v":12},{"h":239.8,"v":13},{"h":242.5,"v":8},{"h":245.8,"v":7},{"h":249.2,"v":2},{"h":252.5,"v":17},{"h":255.8,"v":8},{"h":257.5,"v":6},{"h":260.8,"v":18},{"h":264.2,"v":6},{"h":267.5,"v":6},{"h":270.8,"v":11},{"h":274.2,"v":9},{"h":277.5,"v":12},{"h":280.8,"v":2},{"h":284.2,"v":1},{"h":287.5,"v":8},{"h":290.8,"v":4},{"h":295.8,"v":16},{"h":299.2,"v":12},{"h":302.5,"v":6},{"h":304.2,"v":12},{"h":307.5,"v":4},{"h":310.8,"v":3},{"h":314.2,"v":6},{"h":317.5,"v":12},{"h":319.2,"v":18},{"h":322.5,"v":12},{"h":324.2,"v":7},{"h":326.8,"v":14},{"h":329.2,"v":15},{"h":331.5,"v":6},{"h":334.8,"v":25},{"h":336.8,"v":8},{"h":339.2,"v":2},{"h":342.5,"v":12},{"h":345.8,"v":2},{"h":349.2,"v":6},{"h":351.5,"v":16},{"h":354.2,"v":2},{"h":357.5,"v":2},{"h":360.8,"v":8},{"h":364.2,"v":6},{"h":367.5,"v":4},{"h":370.8,"v":14},{"h":373.5,"v":14},{"h":375.8,"v":24},{"h":378.2,"v":16},{"h":380.8,"v":6},{"h":384.2,"v":2},{"h":387.5,"v":3},{"h":390.8,"v":6},{"h":394.2,"v":7},{"h":397.5,"v":4},{"h":400.8,"v":8},{"h":404.2,"v":1},{"h":406.5,"v":14},{"h":409.2,"v":19},{"h":411.5,"v":3},{"h":414.2,"v":12},{"h":417.5,"v":14},{"h":420.8,"v":12},{"h":422.5,"v":18},{"h":424.8,"v":8},{"h":427.5,"v":6},{"h":430.8,"v":7},{"h":434.2,"v":5},{"h":437.5,"v":7},{"h":440.2,"v":9},{"h":442.5,"v":6},{"h":445.8,"v":6},{"h":449.2,"v":8},{"h":450.8,"v":10},{"h":453.5,"v":23},{"h":455.8,"v":12},{"h":457.5,"v":10},{"h":460.8,"v":8},{"h":462.5,"v":6},{"h":464.2,"v":1.5},{"h":466.8,"v":35},{"h":469.2,"v":40},{"h":470.8,"v":43},{"h":472.5,"v":20},{"h":474.2,"v":4},{"h":477.5,"v":1.5},{"h":480.8,"v":3},{"h":484.2,"v":7},{"h":487.5,"v":6},{"h":490.8,"v":8},{"h":494.2,"v":2},{"h":497.5,"v":4},{"h":500.8,"v":5},{"h":503.5,"v":12},{"h":505.8,"v":16},{"h":508.2,"v":12},{"h":511.5,"v":23},{"h":514.2,"v":12},{"h":517.5,"v":22},{"h":520.2,"v":12},{"h":523.5,"v":18},{"h":526.8,"v":25},{"h":529.2,"v":12},{"h":532.5,"v":18},{"h":535.8,"v":13},{"h":539.2,"v":18},{"h":543.5,"v":25},{"h":545.8,"v":12},{"h":549.2,"v":16},{"h":550.8,"v":20},{"h":554.2,"v":12},{"h":557.5,"v":10},{"h":560.8,"v":11},{"h":564.2,"v":14},{"h":566.8,"v":31},{"h":569.2,"v":18},{"h":571.5,"v":4},{"h":574.2,"v":16},{"h":576.8,"v":2},{"h":580.8,"v":12},{"h":584.2,"v":8},{"h":587.5,"v":14},{"h":590.2,"v":30},{"h":592.5,"v":19},{"h":594.8,"v":2},{"h":597.5,"v":1},{"h":600.8,"v":21},{"h":603.5,"v":3},{"h":605.8,"v":15},{"h":608.2,"v":6},{"h":611.5,"v":11},{"h":614.2,"v":4},{"h":617.5,"v":3},{"h":622.5,"v":2},{"h":627.5,"v":2},{"h":630.2,"v":2.5},{"h":636.8,"v":4},{"h":640.2,"v":8},{"h":643.5,"v":5},{"h":648.5,"v":7},{"h":651.8,"v":8},{"h":655.2,"v":10},{"h":658.5,"v":5},{"h":661.8,"v":6},{"h":665.2,"v":5},{"h":670.2,"v":12},{"h":673.5,"v":4},{"h":676.8,"v":6},{"h":680.2,"v":4},{"h":683.5,"v":7},{"h":685.2,"v":4},{"h":686.2,"v":69},{"h":687.2,"v":3},{"h":690.2,"v":4},{"h":693.5,"v":2},{"h":696.8,"v":3},{"h":700.2,"v":7},{"h":703.5,"v":9},{"h":706.8,"v":4},{"h":710.2,"v":6},{"h":713.5,"v":10},{"h":716.8,"v":3},{"h":720.2,"v":4},{"h":723.5,"v":5},{"h":728.5,"v":4},{"h":731.8,"v":18},{"h":734.2,"v":6},{"h":736.8,"v":12},{"h":739.5,"v":5},{"h":743.5,"v":4},{"h":750.2,"v":5},{"h":755.2,"v":4},{"h":758.5,"v":12},{"h":760.8,"v":3},{"h":765.2,"v":12},{"h":768.5,"v":19},{"h":771.8,"v":15},{"h":774.2,"v":18},{"h":776.8,"v":8},{"h":780.2,"v":4},{"h":782.8,"v":14},{"h":785.2,"v":3},{"h":788.5,"v":1},{"h":790.2,"v":16},{"h":793.5,"v":31},{"h":796.2,"v":26},{"h":798.5,"v":20},{"h":800.8,"v":23},{"h":803.5,"v":12},{"h":806.2,"v":19},{"h":808.5,"v":8},{"h":811.8,"v":1},{"h":815.2,"v":18},{"h":816.8,"v":21},{"h":819.2,"v":10},{"h":820.8,"v":16},{"h":822.8,"v":32},{"h":825.2,"v":38},{"h":827.5,"v":28},{"h":829.5,"v":8},{"h":830.8,"v":27},{"h":832,"v":35}],
"an":[{"h":0.2,"v":28},{"h":2.5,"v":34},{"h":4.8,"v":32},{"h":8.2,"v":30},{"h":10.8,"v":26},{"h":12.5,"v":24},{"h":15.8,"v":20},{"h":19.2,"v":14},{"h":21.5,"v":18},{"h":24.2,"v":1},{"h":26.2,"v":12},{"h":28.2,"v":4},{"h":30.8,"v":10},{"h":34.2,"v":7},{"h":37.5,"v":8},{"h":40.8,"v":1},{"h":45.8,"v":16},{"h":50.8,"v":6},{"h":55.8,"v":8},{"h":59.2,"v":12},{"h":61.5,"v":35},{"h":63.5,"v":20},{"h":65.8,"v":24},{"h":69.2,"v":18},{"h":70.8,"v":6},{"h":74.2,"v":9},{"h":79.5,"v":4},{"h":84.8,"v":11},{"h":90.8,"v":3},{"h":97.5,"v":4},{"h":104.2,"v":0.5},{"h":107.5,"v":6},{"h":112.5,"v":14},{"h":115.8,"v":24},{"h":120.2,"v":8},{"h":124.2,"v":32},{"h":127.5,"v":33},{"h":130.8,"v":24},{"h":132.5,"v":6},{"h":137.5,"v":3},{"h":141.5,"v":1.5},{"h":146.5,"v":10},{"h":149.5,"v":2},{"h":152.8,"v":5},{"h":158.5,"v":2},{"h":163.5,"v":1},{"h":167.8,"v":18},{"h":168.8,"v":1},{"h":174.8,"v":8},{"h":180.2,"v":5},{"h":188.5,"v":2},{"h":195.8,"v":6},{"h":200.5,"v":3},{"h":205.8,"v":7},{"h":209.5,"v":8},{"h":213.5,"v":3},{"h":215.8,"v":10},{"h":219.5,"v":2},{"h":224.2,"v":7},{"h":228.5,"v":3},{"h":233.5,"v":4},{"h":237.5,"v":7},{"h":242.5,"v":4},{"h":248.5,"v":1},{"h":252.5,"v":10},{"h":257.5,"v":3},{"h":260.8,"v":11},{"h":265.5,"v":3},{"h":273.5,"v":5},{"h":278.5,"v":7},{"h":283.5,"v":0.5},{"h":288.5,"v":4},{"h":295.8,"v":9},{"h":300.5,"v":3},{"h":307.5,"v":2},{"h":313.5,"v":3},{"h":319.2,"v":12},{"h":323.5,"v":5},{"h":329.2,"v":9},{"h":334.8,"v":16},{"h":338.5,"v":1.5},{"h":343.5,"v":7},{"h":351.5,"v":10},{"h":355.5,"v":1.5},{"h":363.5,"v":3},{"h":370.5,"v":7},{"h":375.8,"v":16},{"h":379.5,"v":7},{"h":385.5,"v":1},{"h":393.5,"v":3},{"h":400.5,"v":3},{"h":409.2,"v":13},{"h":411.5,"v":2},{"h":417.5,"v":10},{"h":422.5,"v":10},{"h":428.5,"v":2},{"h":435.5,"v":3},{"h":443.5,"v":3},{"h":450.5,"v":5},{"h":453.5,"v":14},{"h":458.5,"v":5},{"h":464.2,"v":0.5},{"h":466.8,"v":24},{"h":469.2,"v":34},{"h":472.5,"v":12},{"h":474.5,"v":2},{"h":483.5,"v":3},{"h":493.5,"v":1},{"h":500.5,"v":3},{"h":505.8,"v":8},{"h":511.5,"v":9},{"h":517.5,"v":12},{"h":523.5,"v":9},{"h":526.8,"v":16},{"h":532.5,"v":10},{"h":538.5,"v":8},{"h":543.5,"v":12},{"h":550.5,"v":8},{"h":557.5,"v":5},{"h":563.5,"v":7},{"h":566.8,"v":24},{"h":571.5,"v":2},{"h":574.2,"v":10},{"h":577.5,"v":1},{"h":583.5,"v":4},{"h":590.2,"v":19},{"h":593.5,"v":4},{"h":600.8,"v":12},{"h":603.5,"v":1},{"h":605.8,"v":9},{"h":613.5,"v":2},{"h":623.5,"v":1},{"h":633.5,"v":2},{"h":639.5,"v":5},{"h":648.5,"v":4},{"h":655.2,"v":6},{"h":663.5,"v":3},{"h":670.5,"v":7},{"h":678.5,"v":2},{"h":685.5,"v":3},{"h":693.5,"v":1},{"h":703.5,"v":5},{"h":713.5,"v":6},{"h":723.5,"v":3},{"h":731.8,"v":14},{"h":735.5,"v":5},{"h":743.5,"v":2},{"h":753.5,"v":2},{"h":758.5,"v":8},{"h":768.5,"v":12},{"h":773.5,"v":10},{"h":779.5,"v":1},{"h":783.5,"v":8},{"h":788.5,"v":1},{"h":790.5,"v":10},{"h":793.5,"v":21},{"h":797.5,"v":18},{"h":800.5,"v":15},{"h":803.5,"v":8},{"h":806.5,"v":12},{"h":811.5,"v":1},{"h":815.5,"v":13},{"h":818.5,"v":6},{"h":822.5,"v":20},{"h":825.2,"v":29},{"h":827.5,"v":19},{"h":829.5,"v":4},{"h":832,"v":25}],
"labA":[{"h":796,"v":20.5,"s":"a"}],
"labB":[{"h":796,"v":45.3,"s":"b"}]
},
"vconcat":[
{
"width":832,"height":286,
"layer":[
{"data":{"name":"z0"},"mark":{"type":"line","strokeWidth":1.3,"clip":true},
"encoding":{
"x":{"field":"h","type":"quantitative","scale":{"domain":[0,832],"nice":false,"zero":false},"axis":{"values":[24,120,216,312,408,504,600,696,792],"tickCount":20,"labels":false,"title":null,"grid":true}},
"y":{"field":"v","type":"quantitative","scale":{"domain":[-0.4,23.9],"nice":false,"zero":false},"axis":{"values":[0,5,10,15,20],"tickCount":10,"title":"σH,LE [Wm⁻²]","titleX":-46,"titleY":168,"titleAlign":"center","titleBaseline":"middle","labelExpr":"datum.value % 10 == 0 ? datum.label : ''","labelOverlap":false,"grid":true,"gridOpacity":{"condition":{"test":"datum.value % 10 == 0 && datum.value > 0","value":1},"value":0}}},
"color":{"datum":"z₀ error","scale":{"domain":["z₀ error","Θ error","zₜ,q error","u and q error","z error"],"range":["#000000","#ff0000","#999999","#0000ff","#22e022"]},
"legend":{"orient":"none","legendX":270,"legendY":5,"direction":"horizontal","title":"Analytical method","titleFont":"Liberation Serif","labelFont":"Liberation Serif","titleFontSize":28,"titleAnchor":"start","titlePadding":2,"columns":2,"columnPadding":38,"rowPadding":11,"symbolType":"stroke","symbolSize":1764,"symbolStrokeWidth":3.5,"labelFontSize":24,"labelOffset":6,"labelLimit":300,"titleLimit":400}}
}},
{"data":{"name":"ztq"},"mark":{"type":"line","strokeWidth":1.3,"clip":true},"encoding":{"x":{"field":"h","type":"quantitative"},"y":{"field":"v","type":"quantitative"},"color":{"datum":"zₜ,q error"}}},
{"data":{"name":"th"},"mark":{"type":"line","strokeWidth":1.1,"clip":true},"encoding":{"x":{"field":"h","type":"quantitative"},"y":{"field":"v","type":"quantitative"},"color":{"datum":"Θ error"}}},
{"data":{"name":"uq"},"mark":{"type":"line","strokeWidth":1.1,"clip":true},"encoding":{"x":{"field":"h","type":"quantitative"},"y":{"field":"v","type":"quantitative"},"color":{"datum":"u and q error"}}},
{"data":{"name":"uq2"},"mark":{"type":"line","strokeWidth":1.1,"clip":true,"color":"#0000ff"},"encoding":{"x":{"field":"h","type":"quantitative"},"y":{"field":"v","type":"quantitative"}}},
{"data":{"name":"zz"},"mark":{"type":"line","strokeWidth":2,"clip":true},"encoding":{"x":{"field":"h","type":"quantitative"},"y":{"field":"v","type":"quantitative"},"color":{"datum":"z error"}}},
{"data":{"name":"labA"},"mark":{"type":"text","fontSize":44,"font":"Liberation Serif","baseline":"alphabetic","align":"center","color":"#000"},"encoding":{"x":{"field":"h","type":"quantitative"},"y":{"field":"v","type":"quantitative"},"text":{"field":"s"}}}
]
},
{
"width":832,"height":114,
"layer":[
{"data":{"name":"mc"},"mark":{"type":"line","strokeWidth":1,"clip":true},
"encoding":{
"x":{"field":"h","type":"quantitative","scale":{"domain":[0,832],"nice":false,"zero":false},"axis":{"values":[24,120,216,312,408,504,600,696,792],"tickCount":20,"title":null,"grid":true,"labelOverlap":false,"labelExpr":"timeFormat(datetime(2015, 6, 22 + datum.value / 24), '%d %b.')","labelPadding":5}},
"y":{"field":"v","type":"quantitative","scale":{"domain":[0,70],"nice":false,"zero":false},"axis":{"values":[0,20,40,60],"tickCount":10,"title":"σₜₒₜ [W m⁻²]","titleX":-51,"titleY":61,"titleAlign":"center","titleBaseline":"middle","grid":true,"labelOverlap":false}},
"color":{"datum":"Monte-Carlo","scale":{"domain":["Monte-Carlo","Analytical"],"range":["#000000","#ff0000"]},
"legend":{"orient":"none","legendX":191,"legendY":-11,"title":null,"labelFont":"Liberation Serif","rowPadding":0,"symbolType":"stroke","symbolSize":1764,"symbolStrokeWidth":1.2,"labelFontSize":27,"labelOffset":12,"labelLimit":300}}
}},
{"data":{"name":"an"},"mark":{"type":"line","strokeWidth":1,"clip":true},"encoding":{"x":{"field":"h","type":"quantitative"},"y":{"field":"v","type":"quantitative"},"color":{"datum":"Analytical"}}},
{"data":{"name":"labB"},"mark":{"type":"text","fontSize":44,"font":"Liberation Serif","baseline":"alphabetic","align":"center","color":"#000"},"encoding":{"x":{"field":"h","type":"quantitative"},"y":{"field":"v","type":"quantitative"},"text":{"field":"s"}}}
]
}
],
"resolve":{"scale":{"color":"independent"},"legend":{"color":"independent"}}
}
